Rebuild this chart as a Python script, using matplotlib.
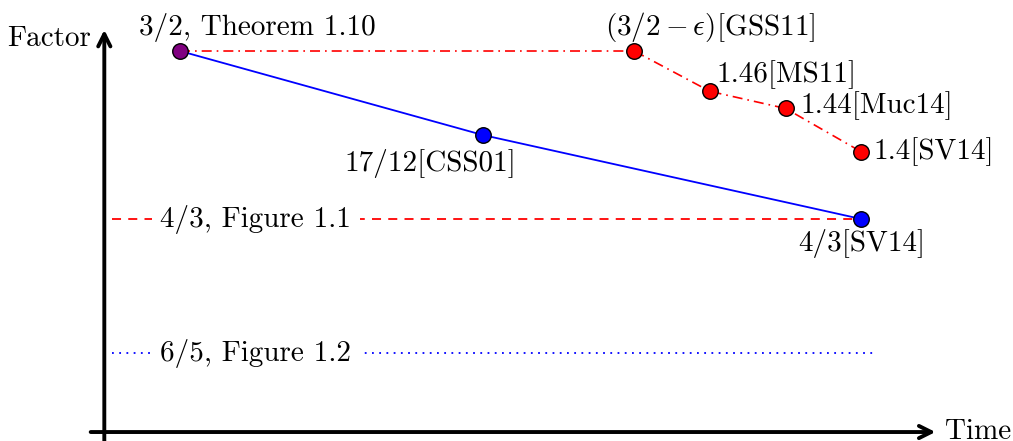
import matplotlib
matplotlib.use("Agg")
import matplotlib.pyplot as plt

plt.rcParams['font.family'] = ['cmr10', 'DejaVu Serif']
plt.rcParams['mathtext.fontset'] = 'cm'
plt.rcParams['axes.unicode_minus'] = False

# Data (time index, approximation factor)
blue_time = [0, 4, 9]
blue_factor = [1.5, 17/12, 4/3]
blue_labels = ["3/2, Theorem 1.10", "17/12[CSS01]", "4/3[SV14]"]

red_time = [0, 6, 7, 8, 9]
red_factor = [1.5, 1.5, 1.46, 1.443, 1.4]
red_labels = [None, r"$(3/2-\epsilon)$[GSS11]", "1.46[MS11]", "1.44[Muc14]", "1.4[SV14]"]

ref_factor = [4/3, 6/5]
ref_labels = ["4/3, Figure 1.1", "6/5, Figure 1.2"]
ref_span = [-0.9, 9.15]

W, H = 1013, 441
fig = plt.figure(figsize=(W/100, H/100), dpi=100)
ax = fig.add_axes([0, 0, 1, 1])
ax.set_xlim(-2.378, 11.004)
ax.set_ylim(1.1131, 1.5506)
ax.axis('off')

FS = 21
MS = 125

# axes arrows
x0, y0 = -1.0, 1.122
ax.annotate("", xy=(9.98, y0), xytext=(-1.18, y0),
            arrowprops=dict(arrowstyle="->", lw=2.8, color='black', mutation_scale=22,
                            shrinkA=0, shrinkB=0))
ax.annotate("", xy=(x0, 1.521), xytext=(x0, 1.113),
            arrowprops=dict(arrowstyle="->", lw=2.8, color='black', mutation_scale=22,
                            shrinkA=0, shrinkB=0))
ax.text(10.1, y0, "Time", fontsize=FS, ha='left', va='center')
ax.text(-1.18, 1.5125, "Factor", fontsize=FS, ha='right', va='center')

# reference lines
ax.plot(ref_span, [ref_factor[0]]*2, color='red', lw=1.3, dashes=(5, 4), zorder=2)
ax.plot(ref_span, [ref_factor[1]]*2, color='blue', lw=1.3, dashes=(1, 3), zorder=2)
for f, lab in zip(ref_factor, ref_labels):
    ax.text(1.0, f, lab, fontsize=FS, ha='center', va='center',
            bbox=dict(facecolor='white', edgecolor='none', pad=6), zorder=3)

# red dash-dot
ax.plot(red_time, red_factor, color='red', lw=1.2, dashes=(6, 3, 1, 3), zorder=2)
# blue solid
ax.plot(blue_time, blue_factor, color='blue', lw=1.3, zorder=2)

# markers
ax.scatter(red_time[1:], red_factor[1:], s=MS, color='red', edgecolor='black', lw=1, zorder=4)
ax.scatter(blue_time[1:], blue_factor[1:], s=MS, color='blue', edgecolor='black', lw=1, zorder=4)
ax.scatter(blue_time[:1], blue_factor[:1], s=MS, color='purple', edgecolor='black', lw=1, zorder=5)

# labels
def lab(x, y, s, dx, dy, ha, va='center'):
    ax.annotate(s, (x, y), xytext=(dx, dy), textcoords='offset pixels',
                fontsize=FS, ha=ha, va=va, zorder=6)

lab(blue_time[0], blue_factor[0], blue_labels[0], 77, 24, 'center')
lab(blue_time[1], blue_factor[1], blue_labels[1], -53, -28, 'center')
lab(blue_time[2], blue_factor[2], blue_labels[2], 0, -24, 'center')
lab(red_time[1], red_factor[1], red_labels[1], 76, 24, 'center')
lab(red_time[2], red_factor[2], red_labels[2], 7, 17, 'left')
lab(red_time[3], red_factor[3], red_labels[3], 15, 3, 'left')
lab(red_time[4], red_factor[4], red_labels[4], 12, 0, 'left')

fig.savefig("out.png", dpi=100)
